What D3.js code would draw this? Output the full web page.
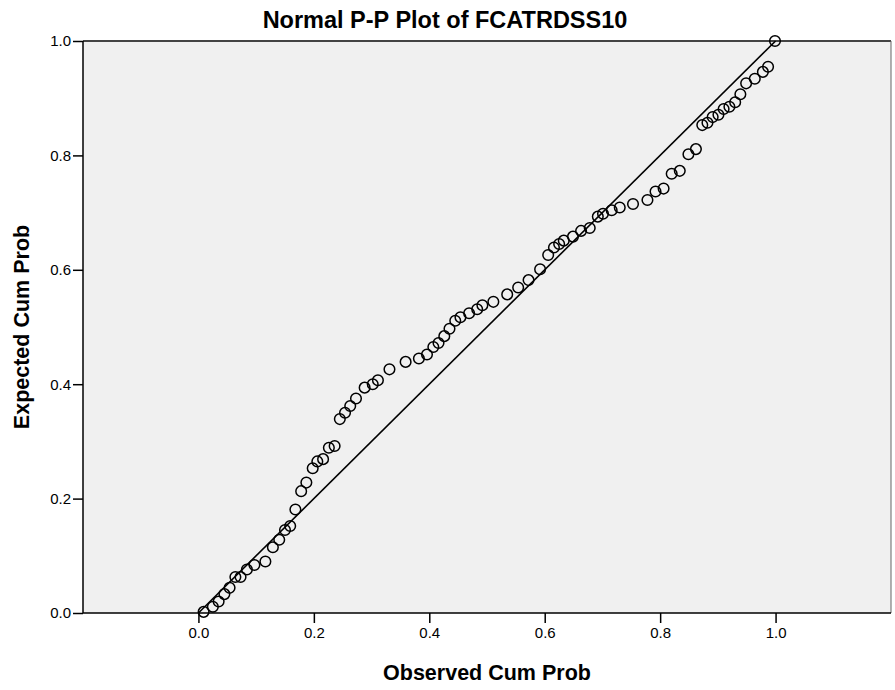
<!DOCTYPE html>
<html>
<head>
<meta charset="utf-8">
<script src="https://cdn.jsdelivr.net/npm/d3@7"></script>
<style>
  html, body { margin: 0; padding: 0; background: #ffffff; }
  svg { display: block; font-family: "Liberation Sans", Arial, sans-serif; }
</style>
</head>
<body>
<div id="chart"></div>
<script>
// Observed cumulative probability for each case
const observedCumProb = [
  0.009, 0.025, 0.035, 0.045, 0.054, 0.064, 0.073, 0.084, 0.097, 0.116,
  0.129, 0.140, 0.150, 0.159, 0.168, 0.178, 0.187, 0.198, 0.206, 0.216,
  0.226, 0.236, 0.245, 0.254, 0.263, 0.273, 0.288, 0.302, 0.311, 0.331,
  0.359, 0.382, 0.396, 0.407, 0.416, 0.426, 0.435, 0.445, 0.454, 0.469,
  0.483, 0.492, 0.511, 0.535, 0.554, 0.572, 0.592, 0.606, 0.616, 0.625,
  0.633, 0.649, 0.663, 0.678, 0.692, 0.701, 0.716, 0.730, 0.753, 0.778,
  0.792, 0.806, 0.820, 0.834, 0.849, 0.862, 0.873, 0.882, 0.891, 0.901,
  0.910, 0.920, 0.930, 0.939, 0.949, 0.964, 0.978, 0.987, 0.999
];
// Expected cumulative probability under the normal distribution
const expectedCumProb = [
  0.002, 0.011, 0.020, 0.033, 0.044, 0.063, 0.063, 0.076, 0.084, 0.090,
  0.115, 0.128, 0.145, 0.152, 0.181, 0.213, 0.228, 0.253, 0.265, 0.269,
  0.289, 0.292, 0.339, 0.350, 0.362, 0.375, 0.394, 0.400, 0.407, 0.426,
  0.439, 0.445, 0.452, 0.465, 0.472, 0.484, 0.497, 0.511, 0.517, 0.524,
  0.531, 0.538, 0.544, 0.557, 0.569, 0.582, 0.601, 0.626, 0.639, 0.645,
  0.651, 0.658, 0.668, 0.673, 0.693, 0.698, 0.704, 0.709, 0.715, 0.722,
  0.737, 0.742, 0.768, 0.773, 0.802, 0.811, 0.853, 0.857, 0.867, 0.871,
  0.881, 0.885, 0.893, 0.907, 0.926, 0.934, 0.946, 0.955, 1.000
];
const xTicks = [0.0, 0.2, 0.4, 0.6, 0.8, 1.0];
const yTicks = [0.0, 0.2, 0.4, 0.6, 0.8, 1.0];
const refLine = [[0, 0], [1, 1]];

const W = 895, H = 690;
const margin = { top: 41, right: 4, bottom: 77, left: 83 };
const iw = W - margin.left - margin.right;
const ih = H - margin.top - margin.bottom;

const svg = d3.select("#chart").append("svg")
  .attr("width", W).attr("height", H);

const x = d3.scaleLinear().domain([-0.2, 1.2]).range([0, iw]);
const y = d3.scaleLinear().domain([0, 1]).range([ih, 0]);

const g = svg.append("g").attr("transform", `translate(${margin.left},${margin.top})`);

// Plot background
g.append("rect")
  .attr("x", 0).attr("y", 0).attr("width", iw).attr("height", ih)
  .attr("fill", "#f0f0f0");

// Frame: top and right edges
g.append("line").attr("x1", 0).attr("x2", iw).attr("y1", 0).attr("y2", 0)
  .attr("stroke", "#444").attr("stroke-width", 2);
g.append("line").attr("x1", iw).attr("x2", iw).attr("y1", 0).attr("y2", ih)
  .attr("stroke", "#666").attr("stroke-width", 1);

// Axes
const xAxis = d3.axisBottom(x).tickValues(xTicks).tickFormat(d3.format(".1f"))
  .tickSizeInner(10).tickSizeOuter(0).tickPadding(4);
const yAxis = d3.axisLeft(y).tickValues(yTicks).tickFormat(d3.format(".1f"))
  .tickSizeInner(10).tickSizeOuter(0).tickPadding(2);

const gx = g.append("g").attr("transform", `translate(0,${ih})`).call(xAxis);
const gy = g.append("g").call(yAxis);
[gx, gy].forEach(a => {
  a.select(".domain").attr("stroke", "#000").attr("stroke-width", 1.5);
  a.selectAll(".tick line").attr("stroke", "#000").attr("stroke-width", 1.5);
  a.selectAll(".tick text").attr("fill", "#000")
    .style("font-size", "15px").style("font-family", "'Liberation Sans', Arial, sans-serif");
});
gx.select(".domain").attr("d", `M0,0H${iw}`);
gy.select(".domain").attr("d", `M0,${ih}V0`);

// Reference diagonal
const line = d3.line().x(d => x(d[0])).y(d => y(d[1]));
g.append("path").datum(refLine)
  .attr("d", line).attr("fill", "none")
  .attr("stroke", "#000").attr("stroke-width", 1.6);

// Points
const pts = observedCumProb.map((v, i) => [v, expectedCumProb[i]]);
g.selectAll("circle.pt").data(pts).enter().append("circle")
  .attr("class", "pt")
  .attr("cx", d => x(d[0])).attr("cy", d => y(d[1]))
  .attr("r", 5.3)
  .attr("fill", "none").attr("stroke", "#000").attr("stroke-width", 1.5);

// Titles
svg.append("text")
  .attr("x", 445).attr("y", 28)
  .attr("text-anchor", "middle")
  .style("font-size", "23.5px").style("font-weight", "bold")
  .text("Normal P-P Plot of FCATRDSS10");

svg.append("text")
  .attr("x", margin.left + iw / 2).attr("y", 680)
  .attr("text-anchor", "middle")
  .style("font-size", "21.5px").style("font-weight", "bold")
  .text("Observed Cum Prob");

svg.append("text")
  .attr("transform", `translate(29,${margin.top + ih / 2}) rotate(-90)`)
  .attr("text-anchor", "middle")
  .style("font-size", "21.5px").style("font-weight", "bold")
  .text("Expected Cum Prob");
</script>
</body>
</html>
